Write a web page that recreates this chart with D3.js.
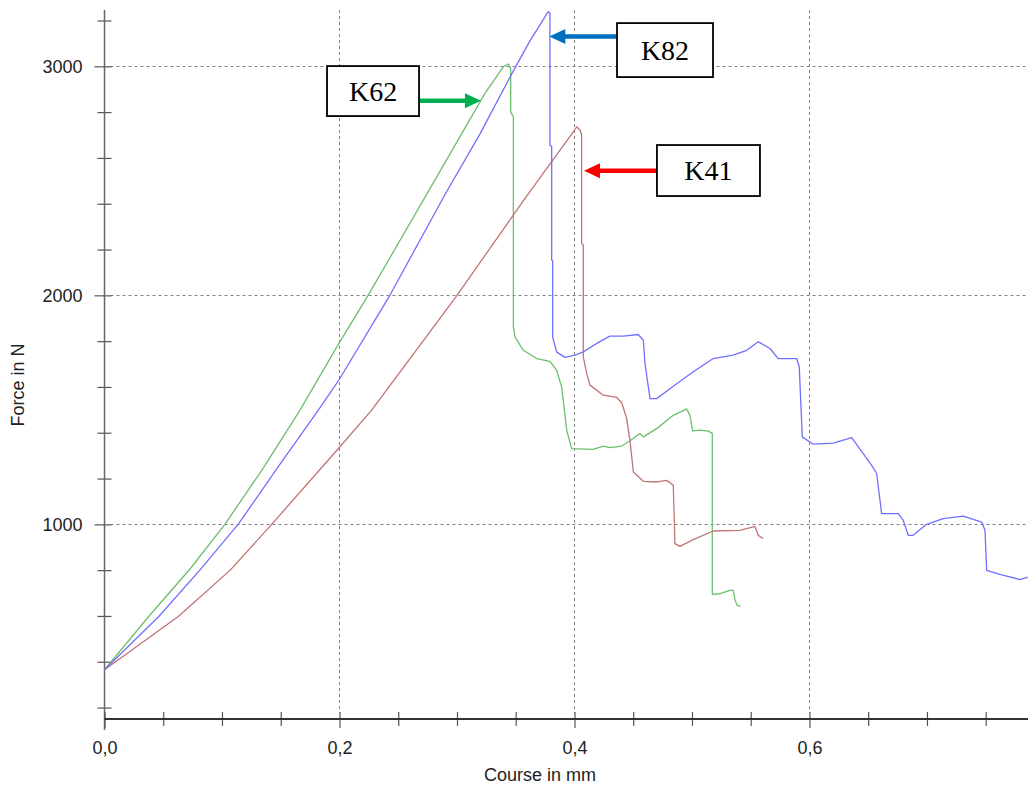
<!DOCTYPE html>
<html>
<head>
<meta charset="utf-8">
<script src="https://cdn.jsdelivr.net/npm/d3@7"></script>
<style>
  body { margin: 0; background: #fff; }
  svg { display: block; }
</style>
</head>
<body>
<svg id="chart" width="1028" height="787"></svg>
<script>
// ---- Force / displacement records of the three specimens ----
const k82Course = [0, 0.0466, 0.0813, 0.1139, 0.1494, 0.182, 0.199, 0.2421, 0.2904, 0.3196, 0.3466, 0.3621, 0.3777, 0.3791, 0.3791, 0.3806, 0.3806, 0.3814, 0.3814, 0.3848, 0.3919, 0.4004, 0.4075, 0.4189, 0.4302, 0.4415, 0.4543, 0.4586, 0.46, 0.4643, 0.47, 0.4841, 0.5011, 0.5181, 0.5351, 0.5466, 0.5564, 0.5664, 0.5734, 0.5891, 0.5913, 0.5939, 0.6032, 0.6202, 0.6359, 0.6458, 0.6529, 0.6572, 0.6614, 0.6756, 0.6798, 0.6841, 0.6883, 0.6997, 0.7139, 0.7309, 0.7466, 0.7494, 0.7508, 0.7621, 0.7791, 0.786];
const k82Force  = [365, 600, 801, 1001, 1263, 1499, 1626, 1993, 2446, 2705, 2967, 3111, 3239, 3232, 2656, 2650, 2154, 2150, 1819, 1753, 1729, 1739, 1753, 1790, 1822, 1822, 1829, 1804, 1702, 1549, 1549, 1603, 1666, 1724, 1739, 1760, 1797, 1768, 1724, 1724, 1688, 1382, 1350, 1355, 1379, 1309, 1258, 1222, 1047, 1047, 1018, 952, 952, 1000, 1025, 1036, 1010, 974, 799, 782, 759, 770];

const k62Course = [0, 0.0387, 0.0728, 0.1026, 0.134, 0.1664, 0.199, 0.2245, 0.2759, 0.3238, 0.3394, 0.3437, 0.3457, 0.3457, 0.348, 0.348, 0.3494, 0.3564, 0.3678, 0.3791, 0.3848, 0.3891, 0.3911, 0.3934, 0.3976, 0.416, 0.4245, 0.4302, 0.4402, 0.45, 0.4557, 0.4586, 0.47, 0.4841, 0.4955, 0.4983, 0.5006, 0.5068, 0.5139, 0.5173, 0.5173, 0.5238, 0.5323, 0.5351, 0.5366, 0.5383, 0.5414];
const k62Force  = [365, 604, 805, 1001, 1237, 1499, 1786, 2001, 2456, 2882, 2998, 3010, 2991, 2800, 2780, 1862, 1819, 1760, 1724, 1712, 1673, 1600, 1513, 1411, 1331, 1327, 1342, 1335, 1342, 1375, 1397, 1382, 1418, 1476, 1504, 1476, 1408, 1411, 1407, 1397, 694, 697, 712, 712, 672, 646, 643];

const k41Course = [0, 0.0628, 0.1068, 0.1423, 0.2004, 0.2274, 0.2991, 0.357, 0.397, 0.4019, 0.4047, 0.4061, 0.4061, 0.4075, 0.4075, 0.4104, 0.4132, 0.4245, 0.4359, 0.4402, 0.4444, 0.4472, 0.4501, 0.4586, 0.47, 0.4785, 0.4841, 0.4855, 0.4898, 0.5011, 0.5181, 0.5409, 0.5536, 0.5564, 0.5607];
const k41Force  = [365, 598, 799, 1000, 1339, 1499, 1993, 2417, 2700, 2736, 2722, 2700, 2227, 2220, 1731, 1659, 1608, 1564, 1554, 1531, 1463, 1367, 1229, 1188, 1185, 1192, 1171, 916, 904, 933, 971, 974, 991, 952, 938];

// ---- Axis ticks ----
const forceTicks = [200, 400, 600, 800, 1000, 1200, 1400, 1600, 1800, 2000, 2200, 2400, 2600, 2800, 3000, 3200];
const forceLabels = [1000, 2000, 3000];
const courseTicks = [0, 0.05, 0.1, 0.15, 0.2, 0.25, 0.3, 0.35, 0.4, 0.45, 0.5, 0.55, 0.6, 0.65, 0.7, 0.75];
const courseLabels = [0, 0.2, 0.4, 0.6];

// ---- Callouts: label, tip point (mm, N), box anchor (mm at box edge, N at box centre) ----
const calloutNames  = ["K82", "K41", "K62"];
const calloutTipX   = [0.3786, 0.4081, 0.3204];
const calloutTipY   = [3130, 2544, 2850];
const calloutBoxX   = [0.4362, 0.4702, 0.2677];
const calloutBoxY   = [3071, 2545, 2892];

const seriesStyle = [
  { course: k62Course, force: k62Force, color: "#6cbf6c" },
  { course: k41Course, force: k41Force, color: "#c07474" },
  { course: k82Course, force: k82Force, color: "#7070ff" }
];
const calloutColors = ["#0070c0", "#ff0000", "#00b050"];
const calloutSizes = [[96, 54], [103, 51], [92, 50]];

const svg = d3.select("#chart");
const x = d3.scaleLinear().domain([0, 0.786]).range([104.5, 1028]);
const y = d3.scaleLinear().domain([150, 3246]).range([719, 10]);

const axisFont = "'Liberation Sans', Arial, sans-serif";

// dashed grid
const grid = svg.append("g").attr("stroke", "#808080").attr("stroke-width", 1)
  .attr("stroke-dasharray", "3,3").attr("fill", "none");
grid.selectAll("line.h").data(forceLabels).join("line").attr("class", "h")
  .attr("x1", x(0) + 6).attr("x2", 1028)
  .attr("y1", d => Math.round(y(d)) + 0.5).attr("y2", d => Math.round(y(d)) + 0.5);
grid.selectAll("line.v").data(courseLabels.filter(d => d > 0)).join("line").attr("class", "v")
  .attr("y1", y(3246)).attr("y2", y(150) - 6)
  .attr("x1", d => Math.round(x(d)) + 0.5).attr("x2", d => Math.round(x(d)) + 0.5);

// y axis
const yAxis = svg.append("g").attr("transform", `translate(${x(0)},0)`)
  .call(d3.axisLeft(y).tickValues(forceTicks).tickSize(0).tickPadding(22)
    .tickFormat(d => forceLabels.includes(d) ? String(d) : ""));
yAxis.select(".domain").remove();
yAxis.selectAll(".tick line")
  .attr("x1", d => forceLabels.includes(d) ? -10 : -7).attr("x2", 7)
  .attr("stroke", "#555").attr("stroke-width", 1.2);
yAxis.selectAll(".tick text").attr("font-family", axisFont).attr("font-size", 18).attr("fill", "#222");
svg.append("line").attr("x1", x(0)).attr("x2", x(0)).attr("y1", y(3246)).attr("y2", y(150) + 11)
  .attr("stroke", "#666").attr("stroke-width", 1.5);

// x axis
const xAxis = svg.append("g").attr("transform", `translate(0,${y(150)})`)
  .call(d3.axisBottom(x).tickValues(courseTicks).tickSize(0)
    .tickFormat(d => courseLabels.includes(d) ? d3.format(".1f")(d).replace(".", ",") : ""));
xAxis.select(".domain").remove();
xAxis.selectAll(".tick line")
  .attr("y1", -7).attr("y2", d => courseLabels.includes(d) ? 9 : 7)
  .attr("stroke", "#555").attr("stroke-width", 1.2);
xAxis.selectAll(".tick text").attr("y", 22)
  .attr("font-family", axisFont).attr("font-size", 18).attr("fill", "#222");
svg.append("line").attr("x1", x(0)).attr("x2", 1028).attr("y1", y(150)).attr("y2", y(150))
  .attr("stroke", "#333").attr("stroke-width", 1.8);

// axis titles
svg.append("text").attr("x", 540).attr("y", 781).attr("text-anchor", "middle")
  .attr("font-family", axisFont).attr("font-size", 18).attr("fill", "#222").text("Course in mm");
svg.append("text").attr("transform", "translate(24,385) rotate(-90)").attr("text-anchor", "middle")
  .attr("font-family", axisFont).attr("font-size", 18).attr("fill", "#222").text("Force in N");

// curves
const line = d3.line().x(d => x(d[0])).y(d => y(d[1]));
svg.append("g").selectAll("path").data(seriesStyle).join("path")
  .attr("d", s => line(s.course.map((c, i) => [c, s.force[i]])))
  .attr("fill", "none").attr("stroke", s => s.color).attr("stroke-width", 1.3)
  .attr("stroke-linejoin", "round");

// callouts
const callouts = svg.append("g");
calloutNames.forEach((name, i) => {
  const tx = x(calloutTipX[i]), ty = y(calloutTipY[i]);
  const bx = x(calloutBoxX[i]), by = y(calloutBoxY[i]);
  const [w, h] = calloutSizes[i];
  const dir = bx > tx ? 1 : -1;            // box to the right (1) or left (-1) of the tip
  const left = dir > 0 ? bx : bx - w;
  const headLen = 16, headHalf = 7.5;
  callouts.append("line")
    .attr("x1", bx).attr("x2", tx + dir * (headLen - 1))
    .attr("y1", ty).attr("y2", ty)
    .attr("stroke", calloutColors[i]).attr("stroke-width", 4.5);
  callouts.append("path")
    .attr("d", `M${tx},${ty}L${tx + dir * headLen},${ty - headHalf}L${tx + dir * headLen},${ty + headHalf}Z`)
    .attr("fill", calloutColors[i]);
  callouts.append("rect")
    .attr("x", left).attr("y", by - h / 2).attr("width", w).attr("height", h)
    .attr("fill", "#fff").attr("stroke", "#000").attr("stroke-width", 1.8);
  callouts.append("text")
    .attr("x", left + w / 2).attr("y", by + 9.5).attr("text-anchor", "middle")
    .attr("font-family", "'Liberation Serif', 'Times New Roman', serif")
    .attr("font-size", 28).attr("fill", "#000").text(name);
});
</script>
</body>
</html>
